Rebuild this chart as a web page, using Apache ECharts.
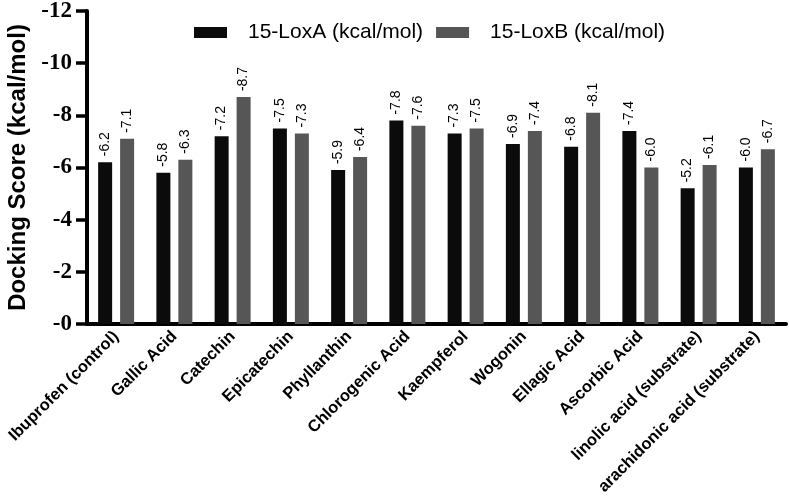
<!DOCTYPE html>
<html>
<head>
<meta charset="utf-8">
<script src="https://cdn.jsdelivr.net/npm/echarts@6/dist/echarts.min.js"></script>
<style>html,body{margin:0;padding:0;background:#fff;}#c{width:789px;height:502px;}</style>
</head>
<body>
<div id="c"></div>
<script>
const categories = ['Ibuprofen (control)', 'Gallic Acid', 'Catechin', 'Epicatechin', 'Phyllanthin', 'Chlorogenic Acid', 'Kaempferol', 'Wogonin', 'Ellagic Acid', 'Ascorbic Acid', 'linolic acid (substrate)', 'arachidonic acid (substrate)'];
const loxA = [-6.2, -5.8, -7.2, -7.5, -5.9, -7.8, -7.3, -6.9, -6.8, -7.4, -5.2, -6.0];
const loxB = [-7.1, -6.3, -8.7, -7.3, -6.4, -7.6, -7.5, -7.4, -8.1, -6.0, -6.1, -6.7];
const seriesNames = ['15-LoxA (kcal/mol)', '15-LoxB (kcal/mol)'];

const chart = echarts.init(document.getElementById('c'), null, {renderer: 'canvas'});
const labelCfg = {
  show: true,
  position: 'top',
  distance: 6,
  rotate: 90,
  align: 'left',
  verticalAlign: 'middle',
  fontFamily: 'Liberation Sans, Arial, sans-serif',
  fontSize: 14,
  color: '#000',
  formatter: p => p.value.toFixed(1)
};
chart.setOption({
  animation: false,
  backgroundColor: '#fff',
  legend: {
    top: 17,
    left: 189,
    itemWidth: 33,
    itemHeight: 11,
    itemGap: 13,
    icon: 'rect',
    textStyle: {fontFamily: 'Liberation Sans, Arial, sans-serif', fontSize: 21, color: '#000', padding: [0, 0, 0, 16]},
    data: seriesNames
  },
  grid: {left: 87, right: 3, top: 11, bottom: 178, outerBoundsMode: 'none'},
  xAxis: {
    type: 'category',
    data: categories,
    axisLine: {lineStyle: {color: '#000', width: 4}},
    axisTick: {alignWithLabel: true, length: 5, lineStyle: {color: '#000', width: 3}},
    axisLabel: {
      rotate: 45,
      interval: 0,
      margin: 10,
      fontFamily: 'Liberation Sans, Arial, sans-serif',
      fontWeight: 'bold',
      fontSize: 16.5,
      color: '#000'
    }
  },
  yAxis: {
    type: 'value',
    inverse: true,
    min: -12,
    max: 0,
    interval: 2,
    name: 'Docking Score (kcal/mol)',
    nameLocation: 'middle',
    nameGap: 50,
    nameRotate: 90,
    nameTextStyle: {fontFamily: 'Liberation Sans, Arial, sans-serif', fontWeight: 'bold', fontSize: 24, color: '#000'},
    splitLine: {show: false},
    axisLine: {show: true, lineStyle: {color: '#000', width: 4}},
    axisTick: {show: true, length: 11, lineStyle: {color: '#000', width: 3.5}},
    axisLabel: {
      margin: 15,
      fontFamily: 'Liberation Serif, Times New Roman, serif',
      fontWeight: 'bold',
      fontSize: 23,
      color: '#000',
      formatter: v => v === 0 ? '-0' : String(v)
    }
  },
  series: [
    {name: seriesNames[0], type: 'bar', data: loxA, barWidth: 14, barGap: '57%', itemStyle: {color: '#0b0b0b'}, label: labelCfg},
    {name: seriesNames[1], type: 'bar', data: loxB, barWidth: 14, itemStyle: {color: '#565656'}, label: labelCfg}
  ]
});
</script>
</body>
</html>
